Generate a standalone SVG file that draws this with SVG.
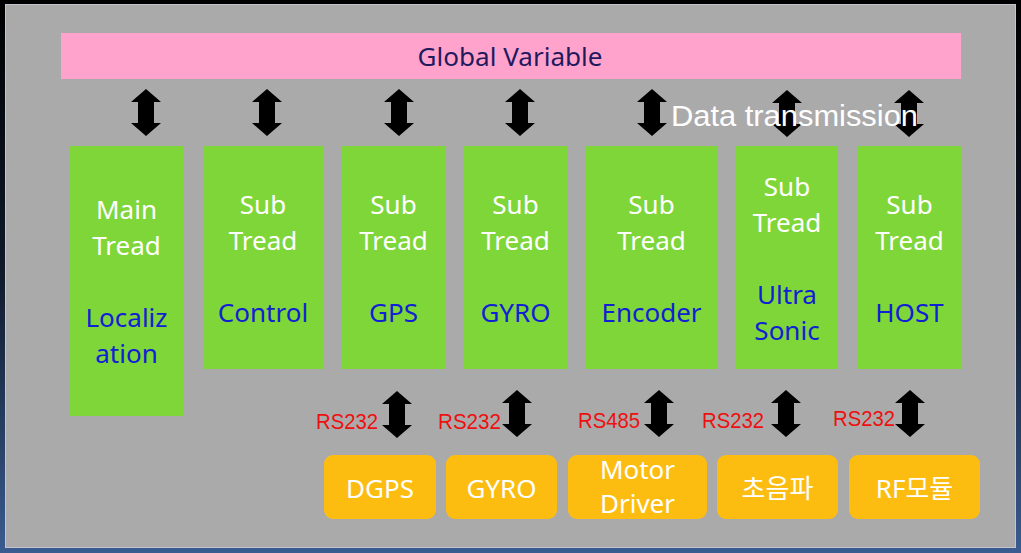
<svg xmlns="http://www.w3.org/2000/svg" width="1021" height="553" viewBox="0 0 1021 553">
<defs>
<linearGradient id="bg" x1="0" y1="0" x2="0" y2="1">
<stop offset="0" stop-color="#000000"/>
<stop offset="0.5" stop-color="#101a2c"/>
<stop offset="1" stop-color="#3a5c90"/>
</linearGradient>
<path id="arr" d="M0,0 L15,13 L8,13 L8,34 L15,34 L0,47 L-15,34 L-8,34 L-8,13 L-15,13 Z" fill="#000"/>
</defs>
<style>
.thread{fill:#7fd639}
.dev{fill:#fdbd10}
.w{fill:#ffffff;font-family:"Noto Sans","Noto Sans CJK KR",sans-serif;font-size:26px;text-anchor:middle}
.b{fill:#1020d4;font-family:"Noto Sans","Noto Sans CJK KR",sans-serif;font-size:26px;text-anchor:middle}
.rs{fill:#ee1010;font-family:"Liberation Sans",Arial,sans-serif;font-size:22px}
</style>
<rect x="0" y="0" width="1021" height="553" fill="url(#bg)"/>
<rect x="5.5" y="4.5" width="1010" height="543" fill="#aaaaaa" stroke="#c4c4d0" stroke-width="1"/>

<g id="global">
<rect x="61" y="33" width="900" height="46" fill="#ffa3cd"/>
<text x="510" y="66" fill="#1f1a5e" font-family="Noto Sans, sans-serif" font-size="26" text-anchor="middle" textLength="185" lengthAdjust="spacingAndGlyphs">Global Variable</text>
</g>

<g id="connectors">
<use href="#arr" transform="translate(146,89)"/>
<use href="#arr" transform="translate(267,89)"/>
<use href="#arr" transform="translate(399,89)"/>
<use href="#arr" transform="translate(520,89)"/>
<use href="#arr" transform="translate(652,89)"/>
<use href="#arr" transform="translate(787,90)"/>
<use href="#arr" transform="translate(909,90)"/>
<use href="#arr" transform="translate(397,391)"/>
<use href="#arr" transform="translate(517,390)"/>
<use href="#arr" transform="translate(659,390)"/>
<use href="#arr" transform="translate(786,390)"/>
<use href="#arr" transform="translate(910,390)"/>
<text x="671" y="126" fill="#ffffff" font-family="Liberation Sans, Arial, sans-serif" font-size="29" textLength="247" lengthAdjust="spacingAndGlyphs">Data transmission</text>
<text class="rs" x="316" y="429" textLength="62" lengthAdjust="spacingAndGlyphs">RS232</text>
<text class="rs" x="438" y="429" textLength="63" lengthAdjust="spacingAndGlyphs">RS232</text>
<text class="rs" x="578" y="428" textLength="62" lengthAdjust="spacingAndGlyphs">RS485</text>
<text class="rs" x="702" y="428" textLength="62" lengthAdjust="spacingAndGlyphs">RS232</text>
<text class="rs" x="833" y="426" textLength="62" lengthAdjust="spacingAndGlyphs">RS232</text>
</g>

<g id="main-thread">
<rect class="thread" x="70" y="146" width="113" height="270"/>
<text class="w" x="126.5" y="219">Main</text>
<text class="w" x="126.5" y="255">Tread</text>
<text class="b" x="126.5" y="327">Localiz</text>
<text class="b" x="126.5" y="363">ation</text>
</g>
<g id="control-thread">
<rect class="thread" x="203" y="146" width="120" height="223"/>
<text class="w" x="263" y="214">Sub</text>
<text class="w" x="263" y="250">Tread</text>
<text class="b" x="263" y="322">Control</text>
</g>
<g id="gps-thread">
<rect class="thread" x="342" y="146" width="103" height="223"/>
<text class="w" x="393.5" y="214">Sub</text>
<text class="w" x="393.5" y="250">Tread</text>
<text class="b" x="393.5" y="322">GPS</text>
</g>
<g id="gyro-thread">
<rect class="thread" x="464" y="146" width="103" height="223"/>
<text class="w" x="515.5" y="214">Sub</text>
<text class="w" x="515.5" y="250">Tread</text>
<text class="b" x="515.5" y="322">GYRO</text>
</g>
<g id="encoder-thread">
<rect class="thread" x="586" y="146" width="131" height="223"/>
<text class="w" x="651.5" y="214">Sub</text>
<text class="w" x="651.5" y="250">Tread</text>
<text class="b" x="651.5" y="322">Encoder</text>
</g>
<g id="ultra-thread">
<rect class="thread" x="736" y="146" width="102" height="223"/>
<text class="w" x="787" y="196">Sub</text>
<text class="w" x="787" y="232">Tread</text>
<text class="b" x="787" y="304">Ultra</text>
<text class="b" x="787" y="340">Sonic</text>
</g>
<g id="host-thread">
<rect class="thread" x="858" y="146" width="103" height="223"/>
<text class="w" x="909.5" y="214">Sub</text>
<text class="w" x="909.5" y="250">Tread</text>
<text class="b" x="909.5" y="322">HOST</text>
</g>

<g id="dgps">
<rect class="dev" x="324" y="455" width="112" height="64" rx="9"/>
<text class="w" x="380" y="498">DGPS</text>
</g>
<g id="gyro">
<rect class="dev" x="446" y="455" width="111" height="64" rx="9"/>
<text class="w" x="501.5" y="498">GYRO</text>
</g>
<g id="motor-driver">
<rect class="dev" x="568" y="455" width="139" height="64" rx="9"/>
<text class="w" x="637.5" y="479">Motor</text>
<text class="w" x="637.5" y="513">Driver</text>
</g>
<g id="ultrasonic">
<rect class="dev" x="717" y="455" width="121" height="64" rx="9"/>
<text class="w" x="777.5" y="498">초음파</text>
</g>
<g id="rf-module">
<rect class="dev" x="849" y="455" width="131" height="64" rx="9"/>
<text class="w" x="914.5" y="498">RF모듈</text>
</g>
</svg>
